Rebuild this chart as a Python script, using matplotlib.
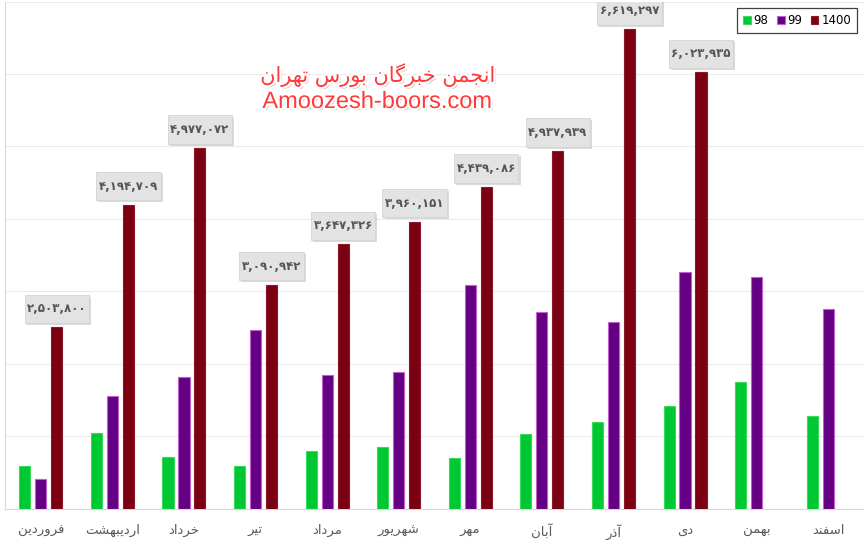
import matplotlib.pyplot as plt
import matplotlib.patheffects as pe
from matplotlib.patches import Rectangle
import numpy as np

# months (Persian calendar)
months = ['فروردین', 'اردیبهشت', 'خرداد', 'تیر', 'مرداد', 'شهریور',
          'مهر', 'آبان', 'آذر', 'دی', 'بهمن', 'اسفند']
series_names = ['98', '99', '1400']
vals_98 = [590000, 1040000, 710000, 590000, 790000, 850000,
           700000, 1030000, 1200000, 1410000, 1740000, 1280000]
vals_99 = [410000, 1550000, 1820000, 2460000, 1840000, 1880000,
           3090000, 2710000, 2580000, 3260000, 3200000, 2750000]
vals_1400 = [2503800, 4194709, 4977072, 3090942, 3647326, 3960151,
             4439086, 4937939, 6619297, 6023935]

colors = ['#00c832', '#650085', '#7b0012']
edges = ['#3ad85e', '#c060c8', '#8a1a2a']

# simple Persian shaping: pick contextual forms, then reverse for RTL display
FORMS = {
    'ا': ('\uFE8D', '\uFE8E'), 'آ': ('\uFE81', '\uFE82'),
    'د': ('\uFEA9', '\uFEAA'), 'ذ': ('\uFEAB', '\uFEAC'),
    'ر': ('\uFEAD', '\uFEAE'), 'و': ('\uFEED', '\uFEEE'),
    'ب': ('\uFE8F', '\uFE90', '\uFE91', '\uFE92'),
    'ت': ('\uFE95', '\uFE96', '\uFE97', '\uFE98'),
    'ج': ('\uFE9D', '\uFE9E', '\uFE9F', '\uFEA0'),
    'خ': ('\uFEA5', '\uFEA6', '\uFEA7', '\uFEA8'),
    'س': ('\uFEB1', '\uFEB2', '\uFEB3', '\uFEB4'),
    'ش': ('\uFEB5', '\uFEB6', '\uFEB7', '\uFEB8'),
    'ف': ('\uFED1', '\uFED2', '\uFED3', '\uFED4'),
    'م': ('\uFEE1', '\uFEE2', '\uFEE3', '\uFEE4'),
    'ن': ('\uFEE5', '\uFEE6', '\uFEE7', '\uFEE8'),
    'ه': ('\uFEE9', '\uFEEA', '\uFEEB', '\uFEEC'),
    'ی': ('\uFBFC', '\uFBFD', '\uFBFE', '\uFBFF'),
    'گ': ('\uFB92', '\uFB93', '\uFB94', '\uFB95'),
}


def shape(text):
    out = []
    for i, c in enumerate(text):
        if c not in FORMS:
            out.append(c)
            continue
        f = FORMS[c]
        prev = text[i - 1] if i > 0 else None
        nxt = text[i + 1] if i + 1 < len(text) else None
        jp = prev in FORMS and len(FORMS[prev]) == 4
        jn = len(f) == 4 and nxt in FORMS
        if jp and jn:
            out.append(f[3])
        elif jp:
            out.append(f[1])
        elif jn:
            out.append(f[2])
        else:
            out.append(f[0])
    return ''.join(reversed(out))


def fa_num(v):
    return f"{v:,}".translate(str.maketrans('0123456789', '۰۱۲۳۴۵۶۷۸۹'))


fig = plt.figure(figsize=(8.64, 5.4), dpi=100)
ax = fig.add_axes([0.0058, 0.0583, 0.9942, 0.9389])

x = np.arange(len(months))
w = 0.155
off = 0.223
all_vals = [vals_98, vals_99, vals_1400]
for k, (vals, name) in enumerate(zip(all_vals, series_names)):
    xs = x[:len(vals)] + (k - 1) * off
    ax.bar(xs, vals, width=w, color=colors[k], edgecolor=edges[k],
           linewidth=0.8, label=name, zorder=3)

# value labels on 1400 bars (grey boxes with a soft shadow)
box_w, box_h, gap = 0.9, 390000, 60000
for xi, v in zip(x[:len(vals_1400)] + off, vals_1400):
    r = Rectangle((xi - box_w / 2, v + gap), box_w, box_h, fc='#e3e3e3',
                  ec='#d4d4d4', lw=0.6, zorder=5,
                  path_effects=[pe.withSimplePatchShadow(offset=(1.5, -1.5),
                                                         shadow_rgbFace='#999999', alpha=0.35)])
    ax.add_patch(r)
    ax.text(xi, v + gap + box_h / 2, fa_num(v), ha='center', va='center',
            fontsize=8.5, fontweight='bold', family='DejaVu Sans',
            color='#555555', zorder=6)

ax.set_xlim(-0.5, 11.5)
ax.set_ylim(0, 7000000)
ax.set_yticks(np.arange(0, 7000001, 1000000))
ax.set_yticklabels([])
ax.grid(axis='y', color='#ebebeb', linewidth=0.8, zorder=0)
ax.tick_params(length=0)
ax.set_xticks(x)
ax.set_xticklabels([shape(m) for m in months], fontsize=9.5,
                   color='#595959', family='DejaVu Sans')
ax.tick_params(axis='x', pad=11)
for s in ['top', 'right']:
    ax.spines[s].set_visible(False)
ax.spines['left'].set_color('#d9d9d9')
ax.spines['bottom'].set_color('#d9d9d9')

leg = ax.legend(loc='upper right', bbox_to_anchor=(857 / 864, 1 - 8 / 540),
                bbox_transform=fig.transFigure, ncol=3, fontsize=8.5,
                handlelength=0.65, handleheight=0.65, handletextpad=0.25,
                columnspacing=0.7, fancybox=False, borderaxespad=0,
                borderpad=0.5, edgecolor='#404040', framealpha=1)
leg.get_frame().set_linewidth(0.9)

# watermark
glow = [pe.SimplePatchShadow(offset=(1.5, -1.5), shadow_rgbFace='#888888', alpha=0.5),
        pe.withStroke(linewidth=3, foreground='white')]
fig.text(378 / 864, 1 - 75 / 540, shape('انجمن خبرگان بورس تهران'),
         ha='center', va='center', fontsize=15, color='#ff3a3a',
         family='DejaVu Sans', path_effects=glow)
fig.text(377 / 864, 1 - 102 / 540, 'Amoozesh-boors.com',
         ha='center', va='center', fontsize=17, color='#ff3a3a',
         family='Liberation Sans', path_effects=glow)

plt.savefig('out.png', dpi=100)
plt.close()
